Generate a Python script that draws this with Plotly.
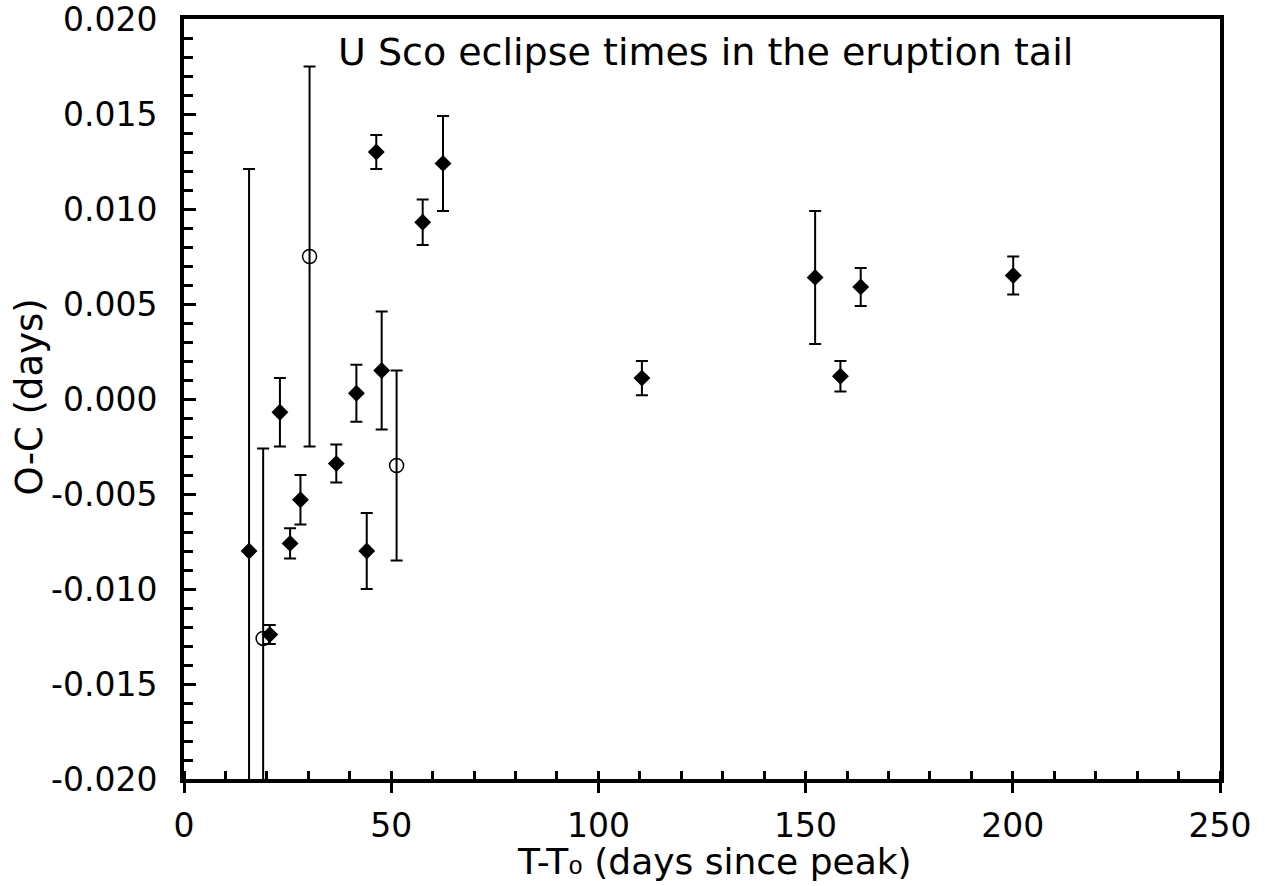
import plotly.graph_objects as go

# Filled diamonds
fill_x = [15.7, 20.7, 23.15, 25.6, 28.1, 36.75, 41.6, 44.1, 46.4, 47.7, 57.6, 62.5, 110.5, 152.3, 158.4, 163.3, 200.1]
fill_y = [-0.0080, -0.0124, -0.0007, -0.0076, -0.0053, -0.0034, 0.0003, -0.0080, 0.0130, 0.0015, 0.0093, 0.0124, 0.0011, 0.0064, 0.0012, 0.0059, 0.0065]
fill_err = [0.0201, 0.0005, 0.0018, 0.0008, 0.0013, 0.0010, 0.0015, 0.0020, 0.0009, 0.0031, 0.0012, 0.0025, 0.0009, 0.0035, 0.0008, 0.0010, 0.0010]

# Open circles
open_x = [19.1, 30.3, 51.3]
open_y = [-0.0126, 0.0075, -0.0035]
open_err = [0.0100, 0.0100, 0.0050]

# Tick labels
x_ticks = [0, 50, 100, 150, 200, 250]
x_labels = ["0", "50", "100", "150", "200", "250"]
y_ticks = [-0.020, -0.015, -0.010, -0.005, 0.0, 0.005, 0.010, 0.015, 0.020]
y_labels = ["-0.020", "-0.015", "-0.010", "-0.005", "0.000", "0.005", "0.010", "0.015", "0.020"]

FONT = "DejaVu Sans"

fig = go.Figure()
fig.add_trace(go.Scatter(
    x=fill_x, y=fill_y, mode="markers",
    marker=dict(symbol="diamond", size=13, color="black"),
    error_y=dict(type="data", array=fill_err, visible=True, color="black", thickness=2, width=6),
    showlegend=False,
))
fig.add_trace(go.Scatter(
    x=open_x, y=open_y, mode="markers",
    marker=dict(symbol="circle-open", size=14, color="black", line=dict(width=1.5, color="black")),
    error_y=dict(type="data", array=open_err, visible=True, color="black", thickness=2, width=6),
    showlegend=False,
))

fig.add_annotation(
    text="U Sco eclipse times in the eruption tail",
    xref="paper", yref="paper", x=0.503, y=0.957,
    showarrow=False, font=dict(family=FONT, size=38, color="black"),
    xanchor="center", yanchor="middle",
)
fig.add_annotation(
    text="T-T\u2080 (days since peak)",
    xref="paper", yref="paper", x=0.512, y=-0.109,
    showarrow=False, font=dict(family=FONT, size=36, color="black"),
    xanchor="center", yanchor="middle",
)
fig.add_annotation(
    text="O-C (days)",
    xref="paper", yref="paper", x=-0.1496, y=0.502, textangle=-90,
    showarrow=False, font=dict(family=FONT, size=37, color="black"),
    xanchor="center", yanchor="middle",
)

fig.update_layout(
    width=1265, height=886,
    margin=dict(l=184, r=45, t=19, b=107),
    paper_bgcolor="white", plot_bgcolor="white",
    font=dict(family=FONT, size=33, color="black"),
    xaxis=dict(
        range=[0, 250], tickvals=x_ticks, ticktext=x_labels,
        automargin=False, ticklabeloverflow="allow",
        showgrid=False, zeroline=False,
        showline=True, linecolor="black", linewidth=4, mirror=True,
        ticks="outside", ticklen=10, tickwidth=3, tickcolor="black",
        minor=dict(dtick=10, tick0=0, ticks="inside", ticklen=8, tickwidth=3, tickcolor="black", showgrid=False),
        ticklabelstandoff=4,
        tickfont=dict(family=FONT, size=33),
    ),
    yaxis=dict(
        range=[-0.020, 0.020], tickvals=y_ticks, ticktext=y_labels,
        automargin=False, ticklabeloverflow="allow",
        showgrid=False, zeroline=False,
        showline=True, linecolor="black", linewidth=4, mirror=True,
        ticks="inside", ticklen=12, tickwidth=3, tickcolor="black",
        minor=dict(dtick=0.001, tick0=0, ticks="inside", ticklen=9, tickwidth=3, tickcolor="black", showgrid=False),
        ticklabelstandoff=16,
        tickfont=dict(family=FONT, size=33),
    ),
)

fig.write_html("out.html")
